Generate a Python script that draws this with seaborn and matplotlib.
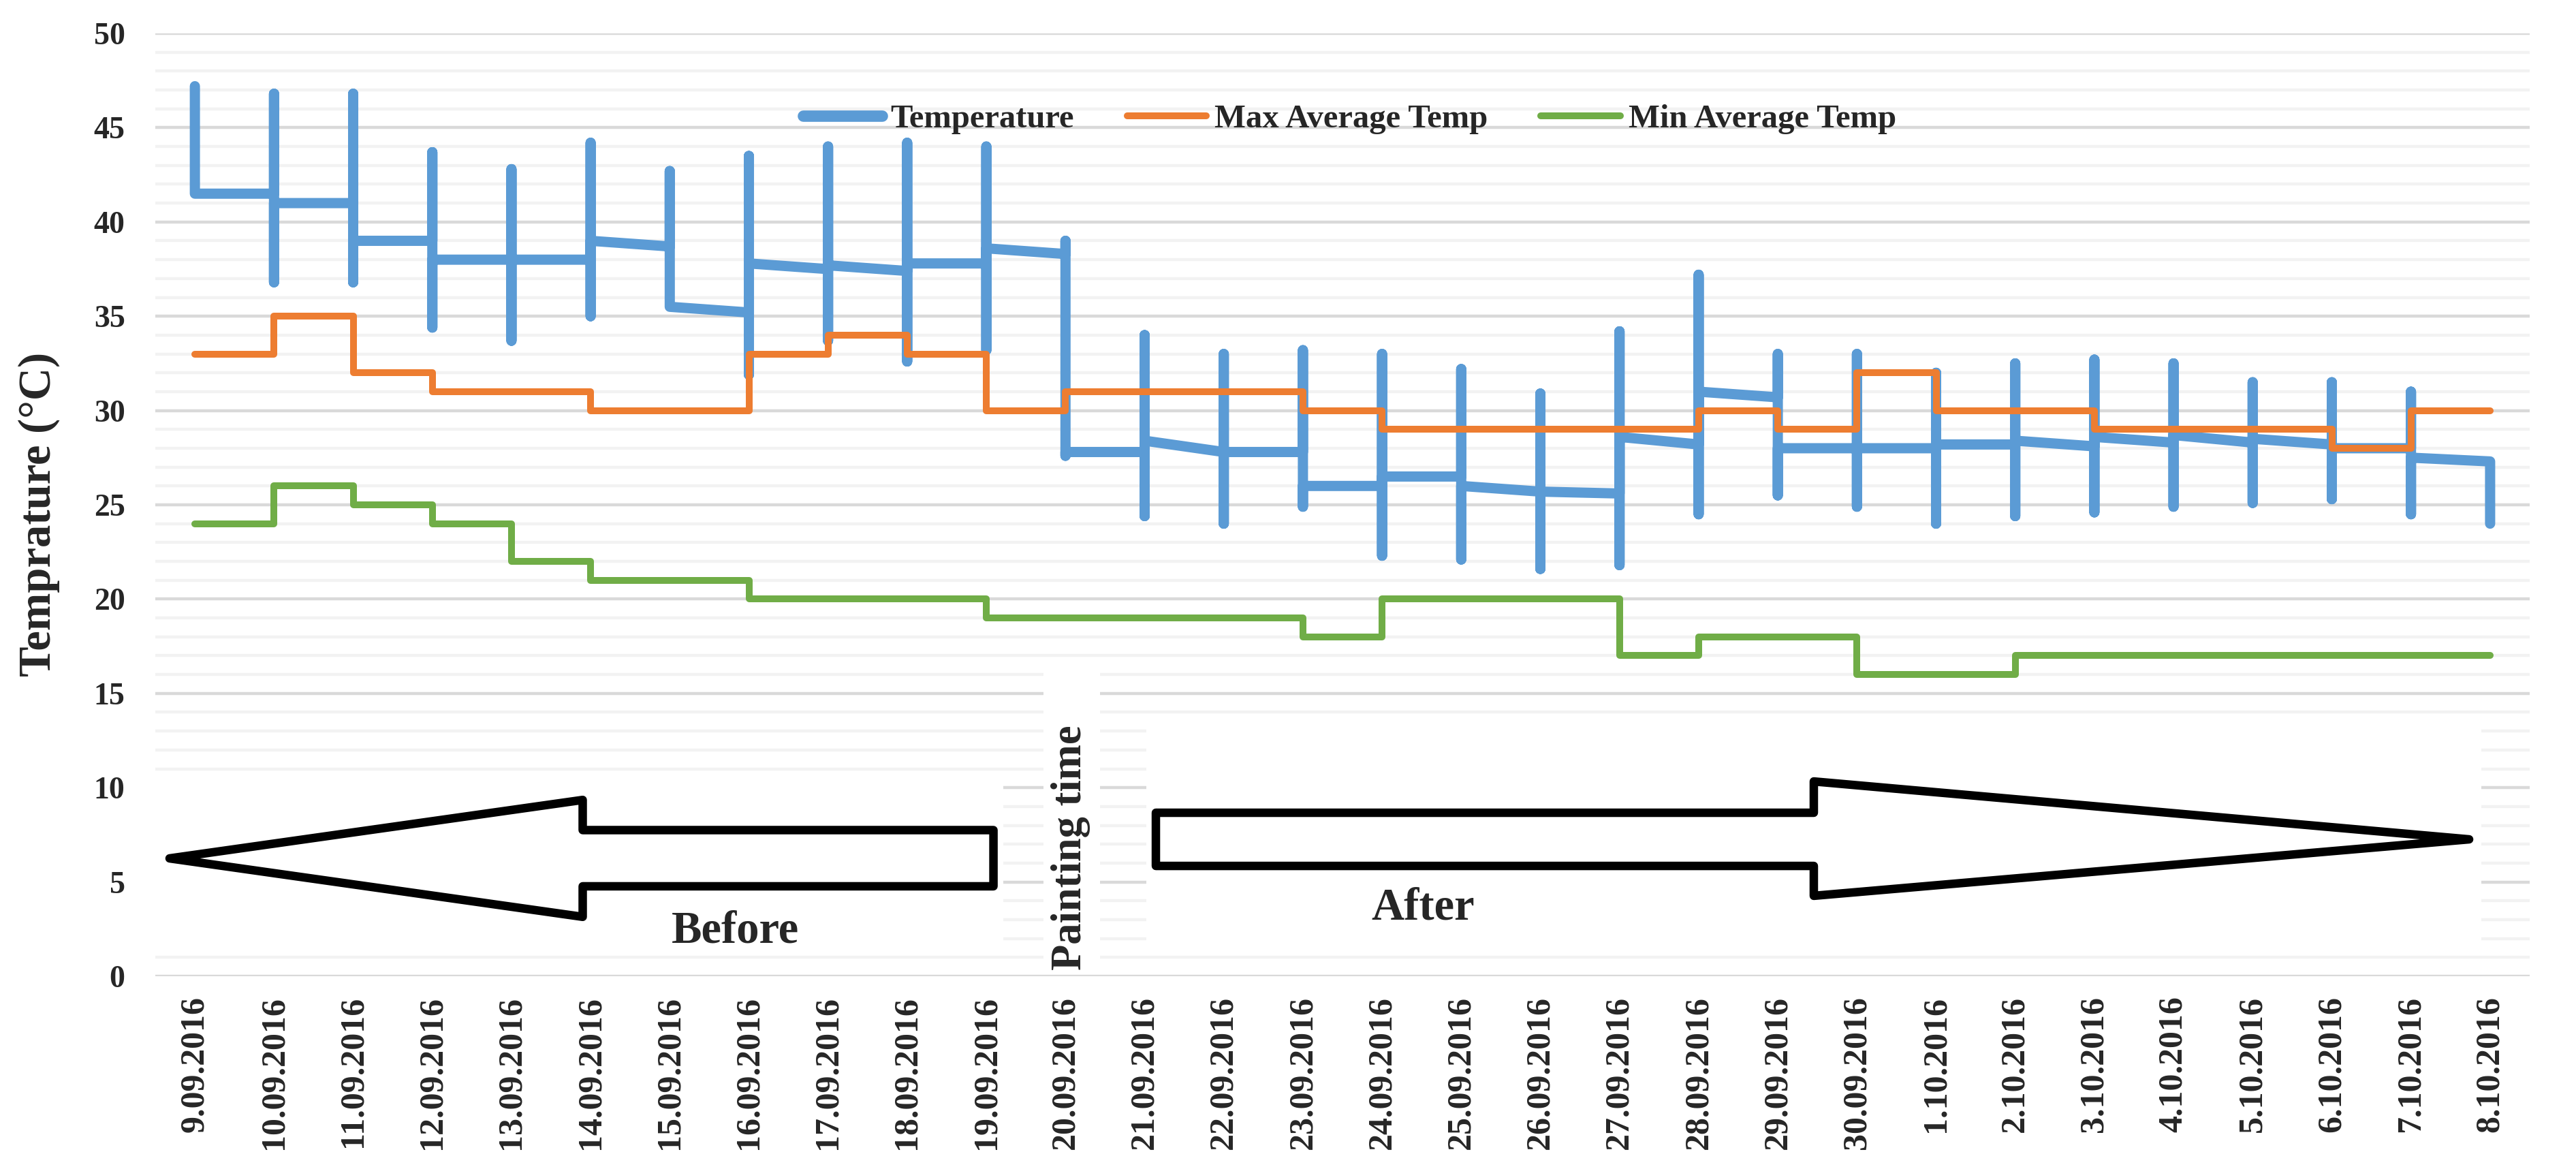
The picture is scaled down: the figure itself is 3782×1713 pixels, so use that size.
import numpy as np
import pandas as pd
import matplotlib
matplotlib.use("Agg")
import matplotlib.pyplot as plt
from matplotlib.patches import Polygon, Rectangle
from matplotlib.lines import Line2D
from matplotlib.ticker import MultipleLocator
import seaborn as sns

# ---------------- data ----------------
dates = ["9.09.2016", "10.09.2016", "11.09.2016", "12.09.2016", "13.09.2016",
         "14.09.2016", "15.09.2016", "16.09.2016", "17.09.2016", "18.09.2016",
         "19.09.2016", "20.09.2016", "21.09.2016", "22.09.2016", "23.09.2016",
         "24.09.2016", "25.09.2016", "26.09.2016", "27.09.2016", "28.09.2016",
         "29.09.2016", "30.09.2016", "1.10.2016", "2.10.2016", "3.10.2016",
         "4.10.2016", "5.10.2016", "6.10.2016", "7.10.2016", "8.10.2016"]

# daily temperature range (vertical bars)
temp_high = [47.2, 46.8, 46.8, 43.7, 42.8, 44.2, 42.7, 43.5, 44.0, 44.2,
             44.0, 39.0, 34.0, 33.0, 33.2, 33.0, 32.2, 30.9, 34.2, 37.2,
             33.0, 33.0, 32.0, 32.5, 32.7, 32.5, 31.5, 31.5, 31.0, 27.3]
temp_low = [41.5, 36.8, 36.8, 34.4, 33.7, 35.0, 35.5, 31.9, 33.7, 32.6,
            33.2, 27.6, 24.4, 24.0, 24.9, 22.3, 22.1, 21.6, 21.8, 24.5,
            25.5, 24.9, 24.0, 24.4, 24.6, 24.9, 25.1, 25.3, 24.5, 24.0]
# temperature trace between consecutive days (start value, end value)
temp_seg_start = [41.5, 41.0, 39.0, 38.0, 38.0, 39.0, 35.5, 37.8, 37.7, 37.8,
                  38.6, 27.8, 28.4, 27.8, 26.0, 26.5, 26.0, 25.7, 28.6, 31.0,
                  28.0, 28.0, 28.2, 28.4, 28.6, 28.7, 28.5, 28.0, 27.5]
temp_seg_end = [41.5, 41.0, 39.0, 38.0, 38.0, 38.7, 35.2, 37.5, 37.4, 37.8,
                38.3, 27.8, 27.8, 27.8, 26.0, 26.5, 25.7, 25.6, 28.2, 30.7,
                28.0, 28.0, 28.2, 28.1, 28.3, 28.3, 28.2, 28.0, 27.3]

max_avg_temp = [33, 35, 32, 31, 31, 30, 30, 33, 34, 33, 30, 31, 31, 31, 30,
                29, 29, 29, 29, 30, 29, 32, 30, 30, 29, 29, 29, 28, 30, 30]
min_avg_temp = [24, 26, 25, 24, 22, 21, 21, 20, 20, 20, 19, 19, 19, 19, 18,
                20, 20, 20, 17, 18, 18, 16, 16, 17, 17, 17, 17, 17, 17, 17]

series_names = ["Temperature", "Max Average Temp", "Min Average Temp"]
colors = ["#5B9BD5", "#ED7D31", "#70AD47"]

# ---------------- style ----------------
sns.set_style("white")
plt.rcParams['font.family'] = ['Liberation Serif', 'DejaVu Serif']
plt.rcParams['font.weight'] = 'bold'

fig = plt.figure(figsize=(37.82, 17.13), dpi=100)
ax = fig.add_axes([0.06029, 0.16346, 0.92173, 0.80794])

n = len(dates)
pos = np.arange(n)

# temperature path: vertical range at each day + trace to next day
xs, ys = [], []
for i in range(n):
    xs += [pos[i], pos[i]]
    ys += [temp_high[i], temp_low[i]]
    if i < n - 1:
        xs += [pos[i], pos[i + 1]]
        ys += [temp_seg_start[i], temp_seg_end[i]]
df_temp = pd.DataFrame({"x": xs, "y": ys})

sns.lineplot(data=df_temp, x="x", y="y", sort=False, estimator=None,
             color=colors[0], lw=10.8, ax=ax, legend=False, zorder=3,
             solid_joinstyle="round", solid_capstyle="round")

df_avg = pd.DataFrame({"x": pos, "max": max_avg_temp, "min": min_avg_temp})
sns.lineplot(data=df_avg, x="x", y="max", color=colors[1], lw=7.2, ax=ax,
             drawstyle="steps-post", legend=False, zorder=4,
             solid_joinstyle="round", solid_capstyle="round")
sns.lineplot(data=df_avg, x="x", y="min", color=colors[2], lw=7.2, ax=ax,
             drawstyle="steps-post", legend=False, zorder=4,
             solid_joinstyle="round", solid_capstyle="round")

# axes
ax.set_xlim(-0.5, n - 0.5)
ax.set_ylim(0, 50)
ax.yaxis.set_major_locator(MultipleLocator(5))
ax.yaxis.set_minor_locator(MultipleLocator(1))
ax.set_axisbelow(True)
ax.grid(False, axis="x")
ax.grid(True, which="major", axis="y", color="#D9D9D9", lw=3.2, zorder=0)
ax.grid(True, which="minor", axis="y", color="#F2F2F2", lw=3.2, zorder=0)
for s in ax.spines.values():
    s.set_visible(False)

ax.set_xticks(pos)
ax.set_xticklabels(dates, rotation=90, fontsize=36, fontweight="bold")
ax.tick_params(axis="x", length=0, pad=21)
ax.tick_params(axis="y", which="both", length=0, pad=32, labelsize=33)
for lab in ax.get_yticklabels():
    lab.set_fontweight("bold")
ax.set_xlabel("")
ax.set_ylabel("")

fig.text(0.0151, 0.559, "Temprature (°C)", rotation=90, ha="center",
         va="center", fontsize=48, fontweight="bold")

# white backgrounds of the annotation boxes
ax.add_patch(Rectangle((0.0, 0.03), 0.357, 0.18, transform=ax.transAxes,
                       facecolor="white", edgecolor="none", zorder=1))
ax.add_patch(Rectangle((0.374, 0.006), 0.024, 0.324, transform=ax.transAxes,
                       facecolor="white", edgecolor="none", zorder=1))
ax.add_patch(Rectangle((0.4174, 0.03), 0.5622, 0.24, transform=ax.transAxes,
                       facecolor="white", edgecolor="none", zorder=1))

# block arrows
left_arrow = [(0.006, 0.125), (0.180, 0.187), (0.180, 0.155), (0.353, 0.155),
              (0.353, 0.0954), (0.180, 0.0954), (0.180, 0.063)]
right_arrow = [(0.4214, 0.1734), (0.6985, 0.1734), (0.6985, 0.2066),
               (0.9745, 0.1452), (0.6985, 0.0853), (0.6985, 0.117),
               (0.4214, 0.117)]
for pts in (left_arrow, right_arrow):
    ax.add_patch(Polygon(pts, closed=True, transform=ax.transAxes,
                         facecolor="white", edgecolor="black", lw=9,
                         joinstyle="round", zorder=5))

ax.text(0.2444, 0.036, "Before", transform=ax.transAxes, ha="center",
        va="baseline", fontsize=48, fontweight="bold", zorder=6)
ax.text(0.5338, 0.06, "After", transform=ax.transAxes, ha="center",
        va="baseline", fontsize=48, fontweight="bold", zorder=6)
ax.text(0.3855, 0.0065, "Painting time", transform=ax.transAxes, rotation=90,
        ha="center", va="bottom", fontsize=45, fontweight="bold", zorder=6)

# legend
handles = [Line2D([], [], color=colors[0], lw=12, solid_capstyle="round"),
           Line2D([], [], color=colors[1], lw=7.2, solid_capstyle="round"),
           Line2D([], [], color=colors[2], lw=7.2, solid_capstyle="round")]
ax.legend(handles, series_names, loc="center", bbox_to_anchor=(0.503, 0.909),
          ncol=3, frameon=False,
          prop={"family": "Liberation Serif", "weight": "bold", "size": 35},
          handlelength=2.4, handletextpad=0.25, columnspacing=1.6)

fig.savefig("out.png", dpi=100, facecolor="white")
